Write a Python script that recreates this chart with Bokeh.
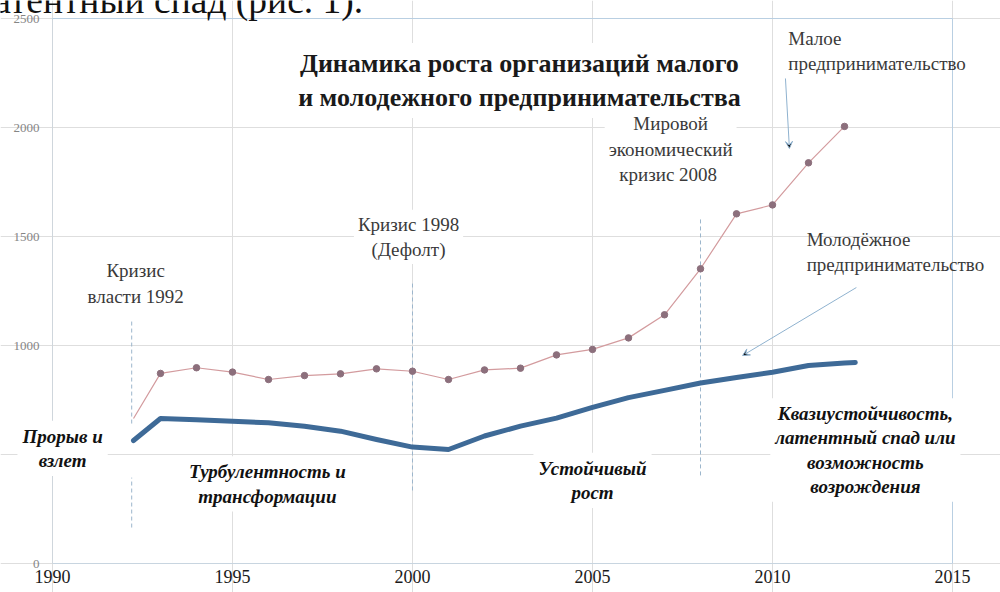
from bokeh.plotting import figure
from bokeh.models import Label, Arrow, VeeHead, Range1d, FixedTicker, Grid
from bokeh.embed import file_html
from bokeh.resources import INLINE

# ---- data ----
small_years = [1992.25, 1993, 1994, 1995, 1996, 1997, 1998, 1999, 2000, 2001, 2002,
               2003, 2004, 2005, 2006, 2007, 2008, 2009, 2010, 2011, 2012]
small_vals = [665, 872, 898, 878, 844, 862, 870, 893, 882, 844, 888,
              896, 957, 982, 1035, 1141, 1352, 1604, 1645, 1838, 2005]
marker_years = small_years[1:]
marker_vals = small_vals[1:]

youth_years = [1992.25, 1993, 1994, 1995, 1996, 1997, 1998, 1999, 2000, 2001, 2002,
               2003, 2004, 2005, 2006, 2007, 2008, 2009, 2010, 2011, 2012, 2012.3]
youth_vals = [564, 665, 659, 652, 646, 630, 607, 569, 534, 523, 585,
              630, 667, 716, 761, 794, 828, 853, 877, 908, 920, 922]

x_ticks = [1990, 1995, 2000, 2005, 2010, 2015]
y_ticks = [0, 500, 1000, 1500, 2000, 2500]
x_tick_labels = [str(v) for v in x_ticks]
y_tick_labels = [str(v) for v in y_ticks]

# crisis markers: year, top value, bottom value (dashed segments)
crisis_segments = [
    (1992.2, 1115, 642),
    (1992.2, 394, 165),
    (2000.0, 1284, 335),
    (2008.0, 1583, 404),
]

title_text = "Динамика роста организаций малого\nи молодежного предпринимательства"
header_fragment = "латентный спад (рис. 1)."

# plain annotations: text, x, y, align, white background
plain_notes = [
    ("Кризис\nвласти 1992", 1992.31, 1284, "center", True),
    ("Кризис 1998\n(Дефолт)", 1999.89, 1498, "center", True),
    ("Мировой\nэкономический\nкризис  2008", 2007.17, 1901, "center", True),
    ("Малое\nпредпринимательство", 2010.44, 2351, "left", False),
    ("Молодёжное\n предпринимательство", 2010.95, 1429, "left", False),
]
# phase labels (bold italic)
phase_notes = [
    ("Прорыв и\nвзлет", 1990.28, 528),
    ("Турбулентность и\nтрансформации", 1995.97, 365),
    ("Устойчивый\nрост", 2005.0, 381),
    ("Квазиустойчивость,\nлатентный спад или\nвозможность\nвозрождения", 2012.58, 521),
]
# arrows: (x_start, y_start, x_end, y_end)
arrows = [
    (2010.36, 2225, 2010.47, 1904),
    (2012.33, 1266, 2009.17, 954),
]

SERIF = "Liberation Serif"

# the frame spans the whole canvas so that notes may sit outside the 1990-2015 box
p = figure(width=1000, height=592, output_backend="svg", toolbar_location=None,
           x_axis_type=None, y_axis_type=None,
           x_range=Range1d(1988.5556, 2016.3333), y_range=Range1d(-133.0, 2582.6),
           min_border_left=0, min_border_right=0, min_border_top=0, min_border_bottom=0)
p.background_fill_color = "white"
p.border_fill_color = "white"
p.outline_line_color = None

x0, x1 = x_ticks[0], x_ticks[-1]
y0, y1 = y_ticks[0], y_ticks[-1]

p.add_layout(Grid(dimension=0, ticker=FixedTicker(ticks=x_ticks), bounds=(y0, y1),
                  grid_line_color="#dedede", grid_line_width=1))
p.add_layout(Grid(dimension=1, ticker=FixedTicker(ticks=y_ticks), bounds=(x0, x1),
                  grid_line_color="#dedede", grid_line_width=1))

# axis lines and plot-area border
p.line([x0, x0], [y0, y1], line_color="#cfd6dc", line_width=1)
p.line([x0, x1], [y0, y0], line_color="#c8d5e0", line_width=1)
p.line([x0, x1], [y1, y1], line_color="#b9cfe2", line_width=1)
p.line([x1, x1], [y0, y1], line_color="#b9cfe2", line_width=1)

# tick labels
p.text(x=x_ticks, y=[y0] * len(x_ticks), text=x_tick_labels, y_offset=6,
       text_font=SERIF, text_font_size="18px", text_color="#1a1a1a",
       text_align="center", text_baseline="top")
p.text(x=[x0] * len(y_ticks), y=y_ticks, text=y_tick_labels, x_offset=-13,
       text_font="Liberation Sans", text_font_size="13px", text_color="#858585",
       text_align="right", text_baseline="middle")

# dashed crisis lines
for (xc, top, bot) in crisis_segments:
    p.line([xc, xc], [bot, top], line_color="#9cb6cc", line_width=1, line_dash="4 3")

# series
p.line(youth_years, youth_vals, line_color="#3e6a97", line_width=5, line_join="round", line_cap="round")
p.line(small_years, small_vals, line_color="#d39b9e", line_width=1.2)
p.scatter(marker_years, marker_vals, size=6.5, fill_color="#8c6f7c", line_color="#8c6f7c")

# texts
p.add_layout(Label(x=1987.86, y=2582, text=header_fragment, text_font=SERIF,
                   text_font_size="37.5px", text_color="#111111",
                   text_align="left", text_baseline="alphabetic"))

p.add_layout(Label(x=2002.97, y=2216, text=title_text, text_font=SERIF,
                   text_font_size="26px", text_font_style="bold", text_color="#1a1a1a",
                   text_align="center", text_baseline="middle", text_line_height=1.17,
                   background_fill_color="white", padding=6))

for (t, x, y, al, bg) in plain_notes:
    kw = dict(background_fill_color="white", padding=4) if bg else {}
    p.add_layout(Label(x=x, y=y, text=t, text_font=SERIF, text_font_size="19px",
                       text_color="#3a3a3a", text_align=al, text_baseline="middle",
                       text_line_height=1.2, **kw))

for (t, x, y) in phase_notes:
    p.add_layout(Label(x=x, y=y, text=t, text_font=SERIF, text_font_size="19px",
                       text_font_style="bold italic", text_color="#111111",
                       text_align="center", text_baseline="middle", text_line_height=1.15,
                       background_fill_color="white", padding=5))

for (xa, ya, xb, yb) in arrows:
    p.add_layout(Arrow(x_start=xa, y_start=ya, x_end=xb, y_end=yb,
                       line_color="#8fb2cf", line_width=1,
                       end=VeeHead(size=7, line_color="#8fb2cf", line_width=1)))

open("out.html", "w").write(file_html(p, INLINE))
